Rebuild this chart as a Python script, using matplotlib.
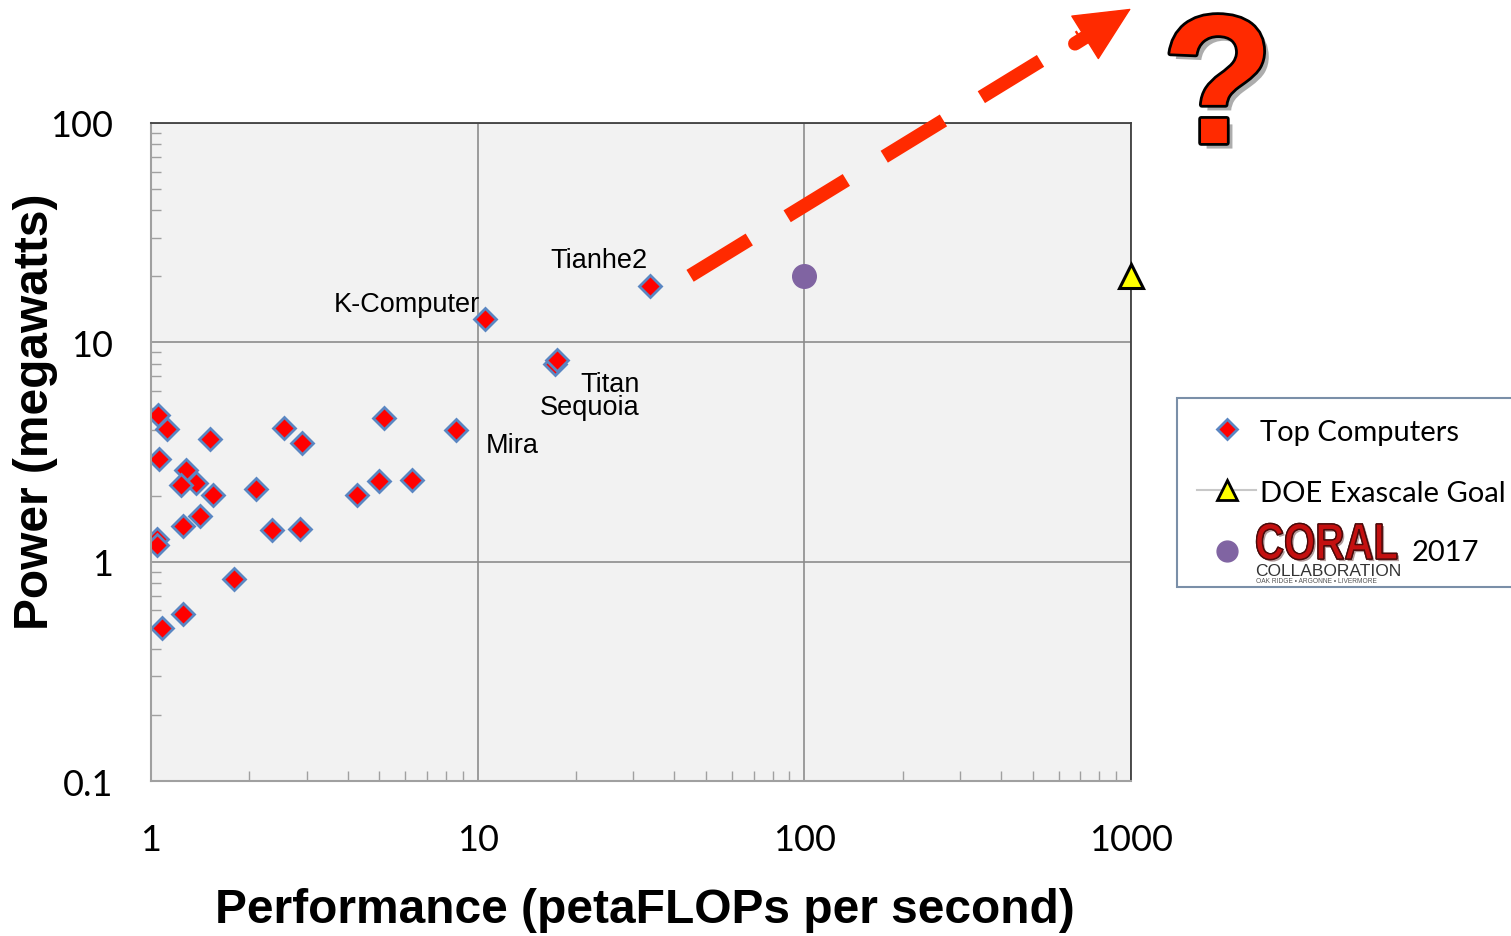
import matplotlib
matplotlib.use("Agg")
import matplotlib.pyplot as plt
import matplotlib.patheffects as pe
from matplotlib.lines import Line2D
from matplotlib.textpath import TextPath
from matplotlib.patches import PathPatch
from matplotlib.font_manager import FontProperties
from matplotlib.transforms import Affine2D, ScaledTranslation

# Top computers (petaFLOPs, megawatts)
perf = [1.05, 1.12, 1.52, 1.06, 1.28, 1.37, 1.24, 1.55, 2.10, 1.41, 1.25, 1.04, 1.045,
        2.55, 2.90, 2.34, 2.86, 5.18, 8.58, 4.28, 4.99, 6.28, 1.79, 1.25, 1.08,
        10.5, 33.7, 17.25, 17.5]
power = [4.68, 4.01, 3.61, 2.95, 2.63, 2.29, 2.23, 2.02, 2.14, 1.61, 1.45, 1.27, 1.19,
         4.08, 3.48, 1.39, 1.41, 4.53, 3.97, 2.01, 2.32, 2.35, 0.83, 0.58, 0.50,
         12.8, 18.0, 8.0, 8.28]

coral_perf, coral_power = [100], [20]
goal_perf, goal_power = [1000], [20]

labels = ["K-Computer", "Tianhe2", "Titan", "Sequoia", "Mira"]

# trend arrow (data coords, runs off the axes)
trend_x = [44.7, 700]
trend_y = [20.1, 248]
arrow_stub = (674, 230)
arrow_tip = (1000, 332)

RED = "#ff2a00"

fig = plt.figure(figsize=(15.11, 9.37), dpi=100)
ax = fig.add_axes([0.0999, 0.1654, 0.6486, 0.7023])
ax.set_facecolor("#f2f2f2")
ax.set_xscale("log")
ax.set_yscale("log")
ax.set_xlim(1, 1000)
ax.set_ylim(0.1, 100)

ax.grid(True, which="major", color="#8c8c8c", lw=1.2)
ax.set_axisbelow(True)
for s in ["left", "bottom"]:
    ax.spines[s].set_color("#a0a0a0")
    ax.spines[s].set_linewidth(1.5)
for s in ["top", "right"]:
    ax.spines[s].set_color("#404040")
    ax.spines[s].set_linewidth(1.3)

ax.tick_params(which="major", length=0, labelsize=26)
ax.tick_params(axis="y", which="major", pad=27)
ax.tick_params(axis="x", which="major", pad=30)
ax.tick_params(which="minor", direction="in", length=7, width=1, color="#a0a0a0",
               labelleft=False, labelbottom=False)
ax.set_xticks([1, 10, 100, 1000])
ax.set_xticklabels(["1", "10", "100", "1000"], family="Lato")
ax.set_yticks([0.1, 1, 10, 100])
ax.set_yticklabels(["0.1", "1", "10", "100"], family="Lato")

ax.plot(perf, power, ls="none", marker="D", ms=11, mfc="red", mec="#5a86c2", mew=2,
        label="Top Computers")
ax.plot(coral_perf, coral_power, ls="none", marker="o", ms=17, mfc="#8064a2", mec="#8064a2")
ax.plot(goal_perf, goal_power, ls="none", marker="^", ms=17, mfc="yellow", mec="black",
        mew=2.2, clip_on=False, zorder=5)

lab_font = dict(family="Liberation Sans", fontsize=19.5)
ax.text(10.16, 15.0, labels[0], ha="right", va="center", **lab_font)
ax.text(33.2, 23.8, labels[1], ha="right", va="center", **lab_font)
ax.text(31.4, 6.48, labels[2], ha="right", va="center", **lab_font)
ax.text(31.4, 5.09, labels[3], ha="right", va="center", **lab_font)
ax.text(10.6, 3.42, labels[4], ha="left", va="center", **lab_font)

ax.set_xlabel("Performance (petaFLOPs per second)", family="Liberation Sans",
              fontweight="bold", fontsize=34.5, va="center")
ax.xaxis.set_label_coords(0.504, -0.195)
ax.set_ylabel("Power (megawatts)", family="Liberation Sans",
              fontweight="bold", fontsize=34.5, va="center")
ax.yaxis.set_label_coords(-0.118, 0.562)

# dashed trend arrow
ax.plot(trend_x, trend_y, color=RED, lw=10, dashes=(5, 3.2), dash_capstyle="butt",
        clip_on=False, zorder=6)
ax.annotate("", xy=arrow_tip, xytext=arrow_stub, annotation_clip=False,
            arrowprops=dict(arrowstyle="-", color=RED, lw=10, shrinkA=0, shrinkB=25),
            zorder=6)
ax.annotate("", xy=arrow_tip, xytext=arrow_stub, annotation_clip=False,
            arrowprops=dict(arrowstyle="-|>,head_length=0.42,head_width=0.2",
                            mutation_scale=90, color=RED, lw=1, shrinkA=0, shrinkB=0),
            zorder=6)

# question mark
fig.text(0.806, 0.897, "?", ha="center", va="center", family="Liberation Sans",
         fontweight="bold", fontsize=132, color=RED,
         path_effects=[pe.withSimplePatchShadow(offset=(4, -4), shadow_rgbFace="#777777", alpha=0.6),
                       pe.Stroke(linewidth=4, foreground="black"), pe.Normal()])

# legend
h_top = Line2D([], [], ls="none", marker="D", ms=10, mfc="red", mec="#5a86c2", mew=2)
h_goal = Line2D([], [], color="#c8c8c8", lw=1.5, marker="^", ms=14, mfc="yellow",
                mec="black", mew=2)
h_coral = Line2D([], [], ls="none", marker="o", ms=15, mfc="#8064a2", mec="#8064a2")
leg = fig.legend([h_top, h_goal, h_coral], ["Top Computers", "DOE Exascale Goal", " "],
                 loc="upper left", bbox_to_anchor=(0.779, 0.574), borderaxespad=0,
                 frameon=True, fancybox=False, framealpha=1, edgecolor="#7a8fa8",
                 prop=dict(family="Lato", size=21), labelspacing=1.2,
                 handlelength=2.0, handletextpad=0.15, borderpad=0.7)
leg.get_frame().set_linewidth(1.5)

# CORAL logo (condensed bold lettering, path units = pixels) and year
coral_path = TextPath((0, 0), "CORAL", size=51,
                      prop=FontProperties(family="Liberation Sans", weight="bold"))
coral_tr = (Affine2D().scale(0.79, 1)
            + ScaledTranslation(0.8305 * 15.11, 0.4023 * 9.37, fig.dpi_scale_trans))
fig.add_artist(PathPatch(coral_path, transform=coral_tr, facecolor="#c41010",
                         edgecolor="#4a0a0a", lw=1, zorder=10,
                         path_effects=[pe.withSimplePatchShadow(offset=(1.5, -1.5), alpha=0.4),
                                       pe.Normal()]))
fig.text(0.8305, 0.3855, "COLLABORATION", family="Liberation Sans", fontsize=12.5,
         color="#333333", ha="left", va="baseline", zorder=10)
fig.text(0.8310, 0.3778, "OAK RIDGE \u2022 ARGONNE \u2022 LIVERMORE", family="Liberation Sans",
         fontsize=4.8, color="#555555", ha="left", va="baseline", zorder=10)
fig.text(0.9345, 0.41, "2017", family="Lato", fontsize=21, ha="left", va="center",
         zorder=10)

fig.savefig("out.png", dpi=100)
